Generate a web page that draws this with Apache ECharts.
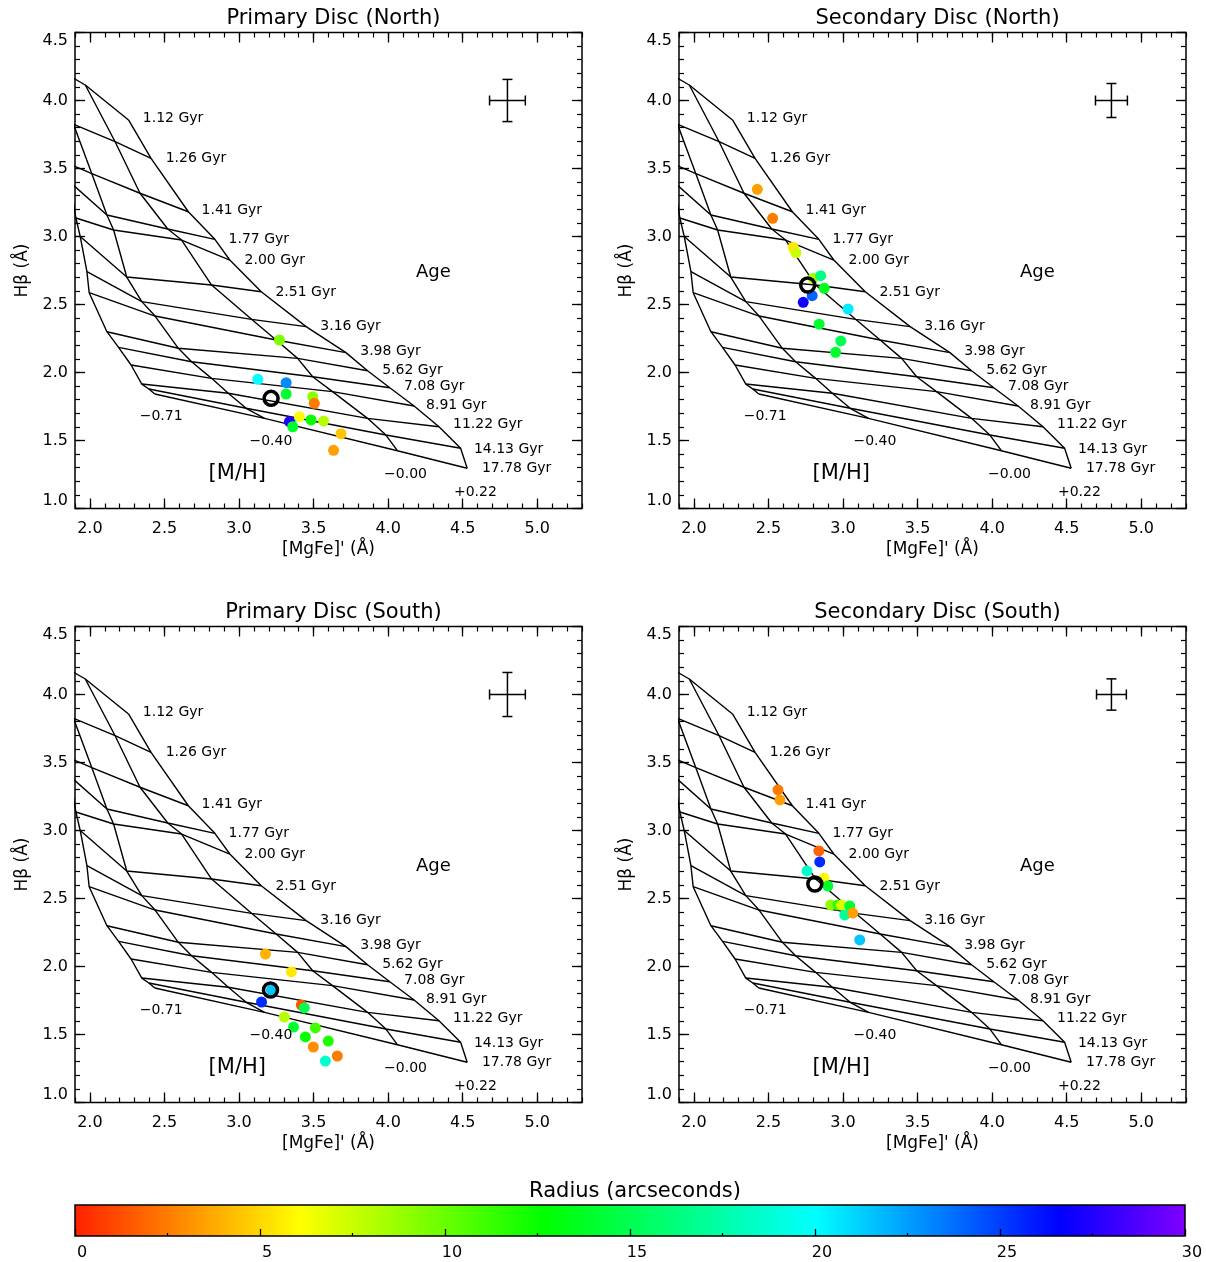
<!DOCTYPE html>
<html><head><meta charset="utf-8">
<script src="https://cdn.jsdelivr.net/npm/echarts@6/dist/echarts.min.js"></script>
<style>html,body{margin:0;padding:0;background:#fff}#c{width:1206px;height:1262px}</style>
</head><body><div id="c"></div>
<script>
// ---------------- model grid (ages x metallicities) ----------------
const ageLabels = ['1.12 Gyr','1.26 Gyr','1.41 Gyr','1.77 Gyr','2.00 Gyr','2.51 Gyr','3.16 Gyr','3.98 Gyr','5.62 Gyr','7.08 Gyr','8.91 Gyr','11.22 Gyr','14.13 Gyr','17.78 Gyr'];
const metLabels = ['−0.71','−0.40','−0.00','+0.22'];
const m071_mgfe = [1.666,1.766,1.813,1.866,1.906,1.935,1.980,1.995,2.114,2.192,2.276,2.348,2.395,2.435];
const m071_hb   = [4.335,3.885,3.555,3.400,3.136,3.000,2.741,2.587,2.300,2.185,2.055,1.915,1.879,1.842];
const m040_mgfe = [1.755,1.890,2.013,2.114,2.159,2.247,2.348,2.437,2.593,2.682,2.816,2.928,3.048,3.171];
const m040_hb   = [4.248,3.825,3.462,3.158,3.048,2.702,2.521,2.415,2.178,2.079,1.957,1.847,1.737,1.663];
const z000_mgfe = [1.969,2.169,2.336,2.522,2.615,2.816,3.084,3.249,3.393,3.494,3.627,3.862,3.985,4.062];
const z000_hb   = [4.114,3.697,3.318,3.055,2.974,2.643,2.391,2.239,2.104,1.969,1.859,1.663,1.540,1.425];
const p022_mgfe = [2.259,2.410,2.660,2.838,2.938,3.149,3.450,3.717,3.862,4.011,4.174,4.341,4.486,4.530];
const p022_hb   = [3.857,3.575,3.182,2.979,2.827,2.594,2.337,2.146,2.013,1.888,1.754,1.601,1.443,1.296];

// label anchor positions (data coords, left edge of text)
const ageLab_x = [2.355,2.508,2.749,2.930,3.037,3.244,3.545,3.813,3.960,4.107,4.254,4.435,4.575,4.629];
const ageLab_y = [3.871,3.577,3.195,2.982,2.827,2.592,2.342,2.158,2.018,1.901,1.761,1.621,1.438,1.298];
const metLab_x = [2.334,3.070,3.973,4.441];
const metLab_y = [1.680,1.496,1.254,1.122];
const extraLabels = [{t:'Age',x:4.187,y:2.739,s:18},{t:'[M/H]',x:2.796,y:1.254,s:21}];

// ---------------- observations ----------------
const titles = ['Primary Disc (North)','Secondary Disc (North)','Primary Disc (South)','Secondary Disc (South)'];

const p1_mgfe = [3.271,3.126,3.316,3.316,3.494,3.505,3.405,3.483,3.567,3.349,3.338,3.360,3.684,3.634];
const p1_hb   = [2.239,1.950,1.925,1.842,1.822,1.773,1.675,1.651,1.643,1.629,1.638,1.601,1.550,1.428];
const p1_r    = [9.5,20,23,14,9,2.5,6,12.5,8,18,27.5,14,4.5,3.5];
const p1_mean = [3.215,1.810];

const p2_mgfe = [2.425,2.528,2.666,2.684,2.800,2.850,2.874,2.793,2.733,3.034,2.840,2.985,2.950];
const p2_hb   = [3.347,3.134,2.921,2.881,2.693,2.712,2.619,2.565,2.516,2.467,2.355,2.232,2.149];
const p2_r    = [3.5,2.5,5.5,7.5,8.5,16.5,13.5,24,27,20.5,14,15,14];
const p2_mean = [2.763,2.643];

const p3_mgfe = [3.177,3.351,3.217,3.151,3.418,3.438,3.304,3.365,3.512,3.445,3.599,3.498,3.659,3.579];
const p3_hb   = [2.092,1.960,1.827,1.739,1.717,1.695,1.628,1.555,1.548,1.482,1.452,1.408,1.342,1.305];
const p3_r    = [4,5.5,21.5,25.5,1.5,15,8,14,11,12.5,12,3,2.5,18.5];
const p3_mean = [3.211,1.827];

const p4_mgfe = [2.564,2.577,2.838,2.844,2.758,2.872,2.898,2.918,2.965,2.990,3.045,3.012,3.065,3.112];
const p4_hb   = [3.298,3.225,2.850,2.769,2.703,2.651,2.592,2.453,2.453,2.453,2.445,2.379,2.393,2.195];
const p4_r    = [2.5,3.5,1.8,25.5,18.5,6,14,9,11.5,7,14,17,3.5,21.5];
const p4_mean = [2.811,2.607];

// error bar (x, y, dx, dy) per panel
const errBars = [[4.8,4.0,0.12,0.155],[4.8,4.0,0.107,0.125],[4.8,4.0,0.12,0.162],[4.8,4.0,0.10,0.115]];

// colour bar
const cbTicks = [0,5,10,15,20,25,30];
const cbStops = [[0,'#ff2000'],[6.1,'#ffff00'],[12.7,'#00ff00'],[20,'#00ffff'],[26.6,'#0000ff'],[30,'#8000ff']];

// ---------------- helpers ----------------
const FONT = 'DejaVu Sans';
function hex2rgb(h){return [parseInt(h.substr(1,2),16),parseInt(h.substr(3,2),16),parseInt(h.substr(5,2),16)];}
function cmap(v){
  for(let i=0;i<cbStops.length-1;i++){
    const a=cbStops[i],b=cbStops[i+1];
    if(v<=b[0]){const t=(v-a[0])/(b[0]-a[0]);const A=hex2rgb(a[1]),B=hex2rgb(b[1]);
      const c=A.map((x,k)=>Math.round(x+(B[k]-x)*t));return 'rgb('+c.join(',')+')';}
  }
  return cbStops[cbStops.length-1][1];
}
const vmColors=[];for(let v=0;v<=30;v+=0.5)vmColors.push(cmap(v));

const grids=[{left:75,top:32.5,width:507,height:476},{left:679,top:32.5,width:507,height:476},
             {left:75,top:626.5,width:507,height:476},{left:679,top:626.5,width:507,height:476}];
function range(a,b,s){const r=[];for(let v=a;v<=b+1e-9;v+=s)r.push(+v.toFixed(2));return r;}
const xMaj=range(2.0,5.0,0.5), xMin=range(1.9,5.3,0.1), yMaj=range(1.0,4.5,0.5), yMin=range(1.0,4.5,0.1);

const option={animation:false,backgroundColor:'#fff',title:[],grid:[],xAxis:[],yAxis:[],series:[],
  visualMap:[{type:'continuous',show:false,min:0,max:30,dimension:2,seriesIndex:[],inRange:{color:vmColors}}]};

const obs=[[p1_mgfe,p1_hb,p1_r,p1_mean],[p2_mgfe,p2_hb,p2_r,p2_mean],[p3_mgfe,p3_hb,p3_r,p3_mean],[p4_mgfe,p4_hb,p4_r,p4_mean]];
const metX=[m071_mgfe,m040_mgfe,z000_mgfe,p022_mgfe], metY=[m071_hb,m040_hb,z000_hb,p022_hb];
const lineStyle={color:'#000',width:1.4,opacity:1};

grids.forEach((g,gi)=>{
  option.grid.push({left:g.left,top:g.top,width:g.width,height:g.height,show:true,borderColor:'#000',borderWidth:1.5,backgroundColor:'transparent'});
  option.title.push({text:titles[gi],left:g.left+g.width/2,top:g.top-29,textAlign:'center',
    textStyle:{fontFamily:FONT,fontSize:21,fontWeight:'normal',color:'#000'}});
  const xb=gi*4;
  const common={type:'value',gridIndex:gi,min:1.9,max:5.3,splitLine:{show:false},axisLine:{show:false}};
  option.xAxis.push(Object.assign({},common,{position:'bottom',
    axisTick:{show:true,inside:true,length:10,customValues:xMaj,lineStyle:{color:'#000',width:1.3}},
    axisLabel:{show:true,customValues:xMaj,formatter:v=>v.toFixed(1),margin:12,fontFamily:FONT,fontSize:16,color:'#000'},
    name:"[MgFe]' (Å)",nameLocation:'middle',nameGap:33,nameTextStyle:{fontFamily:FONT,fontSize:17,color:'#000',verticalAlign:'top'}}));
  option.xAxis.push(Object.assign({},common,{position:'bottom',
    axisTick:{show:true,inside:true,length:5,customValues:xMin,lineStyle:{color:'#000',width:1.2}},axisLabel:{show:false}}));
  option.xAxis.push(Object.assign({},common,{position:'top',
    axisTick:{show:true,inside:true,length:10,customValues:xMaj,lineStyle:{color:'#000',width:1.3}},axisLabel:{show:false}}));
  option.xAxis.push(Object.assign({},common,{position:'top',
    axisTick:{show:true,inside:true,length:5,customValues:xMin,lineStyle:{color:'#000',width:1.2}},axisLabel:{show:false}}));
  const ycommon={type:'value',gridIndex:gi,min:1.0,max:4.5,splitLine:{show:false},axisLine:{show:false}};
  option.yAxis.push(Object.assign({},ycommon,{position:'left',
    axisTick:{show:true,inside:true,length:10,customValues:yMaj,lineStyle:{color:'#000',width:1.3}},
    axisLabel:{show:true,customValues:yMaj,formatter:v=>v.toFixed(1),margin:7,fontFamily:FONT,fontSize:16,color:'#000',
      verticalAlignMinLabel:'bottom',verticalAlignMaxLabel:'top'},
    name:'Hβ (Å)',nameLocation:'middle',nameGap:44,nameRotate:90,nameTextStyle:{fontFamily:FONT,fontSize:17,color:'#000'}}));
  option.yAxis.push(Object.assign({},ycommon,{position:'left',
    axisTick:{show:true,inside:true,length:5,customValues:yMin,lineStyle:{color:'#000',width:1.2}},axisLabel:{show:false}}));
  option.yAxis.push(Object.assign({},ycommon,{position:'right',
    axisTick:{show:true,inside:true,length:10,customValues:yMaj,lineStyle:{color:'#000',width:1.3}},axisLabel:{show:false}}));
  option.yAxis.push(Object.assign({},ycommon,{position:'right',
    axisTick:{show:true,inside:true,length:5,customValues:yMin,lineStyle:{color:'#000',width:1.2}},axisLabel:{show:false}}));

  const ax={xAxisIndex:xb,yAxisIndex:xb};
  // age lines
  ageLabels.forEach((a,i)=>{
    option.series.push(Object.assign({type:'line',silent:true,symbol:'none',clip:true,z:2,lineStyle,
      data:metX.map((mx,k)=>[mx[i],metY[k][i]])},ax));
  });
  // metallicity lines
  metX.forEach((mx,k)=>{
    option.series.push(Object.assign({type:'line',silent:true,symbol:'none',clip:true,z:2,lineStyle,
      data:mx.map((v,i)=>[v,metY[k][i]])},ax));
  });
  // text labels
  const labs=[];
  ageLabels.forEach((t,i)=>labs.push({value:[ageLab_x[i],ageLab_y[i]],name:t,s:14}));
  metLabels.forEach((t,i)=>labs.push({value:[metLab_x[i],metLab_y[i]],name:t,s:14}));
  extraLabels.forEach(e=>labs.push({value:[e.x,e.y],name:e.t,s:e.s}));
  option.series.push(Object.assign({type:'scatter',silent:true,symbolSize:0,z:5,itemStyle:{opacity:1},
    data:labs.map(d=>({value:d.value,name:d.name,label:{show:true,position:'inside',align:'left',verticalAlign:'middle',
      formatter:'{b}',fontFamily:FONT,fontSize:d.s,color:'#000',opacity:1,textBorderWidth:0}}))},ax));
  // observations
  const o=obs[gi];
  option.visualMap[0].seriesIndex.push(option.series.length);
  option.series.push(Object.assign({type:'scatter',symbol:'circle',symbolSize:11,z:3,
    itemStyle:{opacity:1},data:o[0].map((x,i)=>[x,o[1][i],o[2][i]])},ax));
  option.series.push(Object.assign({type:'scatter',symbol:'circle',symbolSize:14,z:4,
    itemStyle:{color:'rgba(255,255,255,0)',borderColor:'#000',borderWidth:3.5,opacity:1},data:[o[3]]},ax));
  // error cross
  option.series.push(Object.assign({type:'custom',silent:true,z:4,data:[errBars[gi]],
    renderItem:(p,api)=>{
      const x=api.value(0),y=api.value(1),dx=api.value(2),dy=api.value(3);
      const l=api.coord([x-dx,y]),r=api.coord([x+dx,y]),t=api.coord([x,y+dy]),b=api.coord([x,y-dy]);
      const st={stroke:'#000',lineWidth:1.5},c=5;
      const L=(x1,y1,x2,y2)=>({type:'line',shape:{x1,y1,x2,y2},style:st});
      return {type:'group',children:[L(l[0],l[1],r[0],r[1]),L(t[0],t[1],b[0],b[1]),
        L(l[0],l[1]-c,l[0],l[1]+c),L(r[0],r[1]-c,r[0],r[1]+c),L(t[0]-c,t[1],t[0]+c,t[1]),L(b[0]-c,b[1],b[0]+c,b[1])]};
    }},ax));
});

// colour bar grid
const cbGrad={type:'linear',x:0,y:0,x2:1,y2:0,colorStops:cbStops.map(s=>({offset:s[0]/30,color:s[1]}))};
option.grid.push({left:75,top:1205,width:1110,height:31,show:true,borderColor:'#000',borderWidth:1.5,backgroundColor:cbGrad});
option.title.push({text:'Radius (arcseconds)',left:630,top:1176,textAlign:'center',textStyle:{fontFamily:FONT,fontSize:21,fontWeight:'normal',color:'#000'}});
option.xAxis.push({type:'value',gridIndex:4,min:0,max:30,position:'bottom',splitLine:{show:false},axisLine:{show:false},
  axisTick:{show:true,inside:true,length:7,customValues:cbTicks,lineStyle:{color:'#000',width:1.3}},
  axisLabel:{show:true,customValues:cbTicks,margin:9,padding:[0,0,0,14],fontFamily:FONT,fontSize:16,color:'#000'}});
option.xAxis.push({type:'value',gridIndex:4,min:0,max:30,position:'bottom',splitLine:{show:false},axisLine:{show:false},
  axisTick:{show:true,inside:true,length:3,customValues:[2.5,7.5,12.5,17.5,22.5,27.5],lineStyle:{color:'#000',width:1.2}},axisLabel:{show:false}});
option.yAxis.push({type:'value',gridIndex:4,min:0,max:1,show:false});
option.series.push({type:'line',xAxisIndex:16,yAxisIndex:16,data:[],silent:true});

const chart=echarts.init(document.getElementById('c'),null,{renderer:'canvas'});
chart.setOption(option);
</script></body></html>
